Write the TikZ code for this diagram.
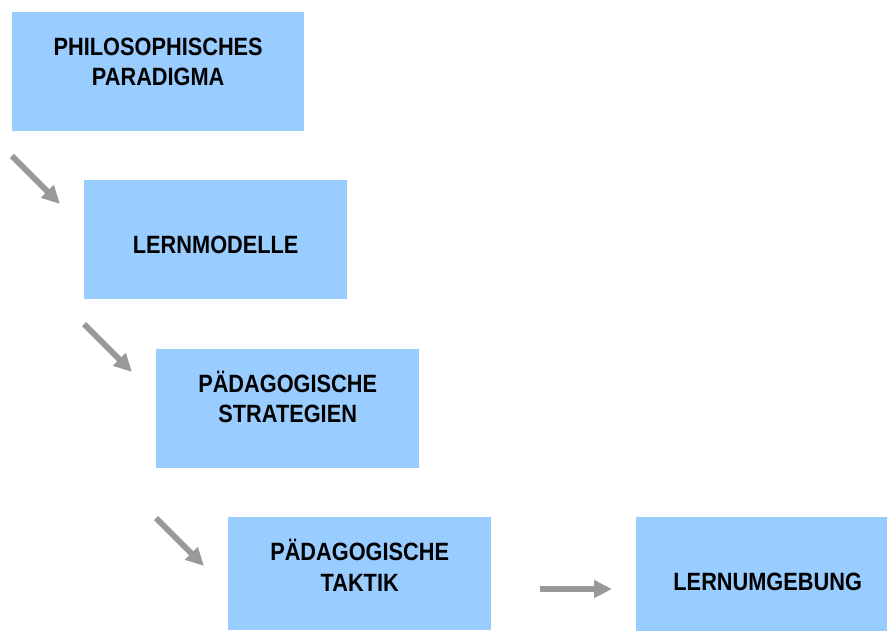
\documentclass[tikz,border=0pt]{standalone}
\usepackage{fontspec}
\setmainfont{Liberation Sans}[FakeStretch=0.87]
\usetikzlibrary{arrows.meta}
\definecolor{boxblue}{HTML}{99CCFF}
\definecolor{arrowgray}{HTML}{999999}
\tikzset{
  stage/.style={fill=boxblue, draw=none, anchor=north west, inner sep=0pt,
    minimum height=119pt},
  caption/.style={anchor=base, inner sep=0pt,
    font=\fontsize{25pt}{30pt}\selectfont\bfseries},
  flow/.style={draw=arrowgray, line width=6pt,
    -{Triangle[length=18pt,width=17pt]}}
}
\begin{document}
\begin{tikzpicture}[x=1pt,y=-1pt]
  \useasboundingbox (0,0) rectangle (887,631);
  % the stages, placed by their top-left corners
  \node[stage, minimum width=292pt] (para) at (12,12) {};
  \node[stage, minimum width=263pt] (modell) at (84,180) {};
  \node[stage, minimum width=263pt] (strat) at (156,349) {};
  \node[stage, minimum width=263pt, minimum height=113pt] (taktik) at (228,517) {};
  \node[stage, minimum width=251pt, minimum height=114pt] (umg) at (636,517) {};

  % captions: first line 43.5 below the top edge, second line 74 below it
  \node[caption] (para1) at ([yshift=-43.5pt]para.north) {PHILOSOPHISCHES};
  \node[caption] (para2) at ([yshift=-74pt]para.north) {PARADIGMA};
  \node[caption] (modell1) at ([yshift=-73.5pt]modell.north) {LERNMODELLE};
  \node[caption] (strat1) at ([yshift=-43pt]strat.north) {PÄDAGOGISCHE};
  \node[caption] (strat2) at ([yshift=-73.5pt]strat.north) {STRATEGIEN};
  \node[caption] (taktik1) at ([yshift=-43.5pt]taktik.north) {PÄDAGOGISCHE};
  \node[caption] (taktik2) at ([yshift=-74pt]taktik.north) {TAKTIK};
  \node[caption] (umg1) at ([xshift=6pt,yshift=-73.5pt]umg.north) {LERNUMGEBUNG};

  % free-standing arrow end points between the stages
  \coordinate (a1s) at (12,156);  \coordinate (a1e) at (60,204);
  \coordinate (a2s) at (84,324);  \coordinate (a2e) at (132,372);
  \coordinate (a3s) at (156,518); \coordinate (a3e) at (204,566);
  \coordinate (a4s) at (540,589); \coordinate (a4e) at (612,589);

  \draw[flow] (a1s) -- (a1e);
  \draw[flow] (a2s) -- (a2e);
  \draw[flow] (a3s) -- (a3e);
  \draw[flow] (a4s) -- (a4e);
\end{tikzpicture}
\end{document}
